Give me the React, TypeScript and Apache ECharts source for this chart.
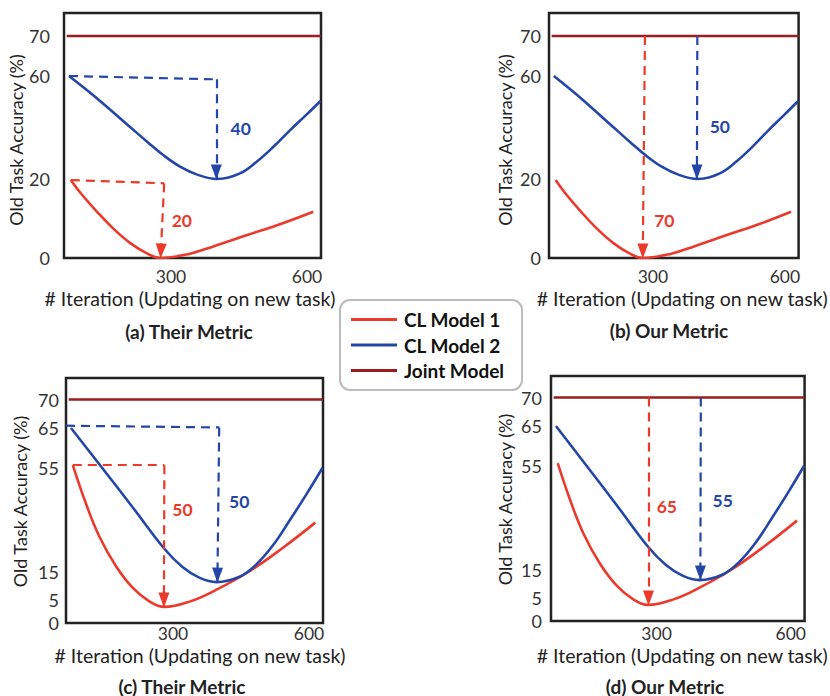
import React, { useEffect, useRef } from "react";
import * as echarts from "echarts";

// ---------------- data ----------------
const X_MIN = 64;
const X_MAX = 631;
const X_TICKS = [300, 600];
const TOP_Y_TICKS = [0, 20, 60, 70];
const BOTTOM_Y_TICKS = [0, 5, 15, 55, 65, 70];

// top panels (a), (b)
const TOP_RED_ITER = [79, 101, 137, 174, 211, 248, 277, 342, 395, 468, 542, 614];
const TOP_RED_ACC = [19.75, 16.4, 11.7, 7.3, 3.7, 1.1, 0, 1.1, 3.0, 5.8, 8.6, 11.7];
const TOP_BLUE_ITER = [75, 137, 211, 248, 285, 321, 358, 401, 452, 489, 526, 563, 599, 630];
const TOP_BLUE_ACC = [60, 51.3, 40, 34.4, 29, 24.7, 21.7, 20, 22.2, 26.7, 32.5, 39, 45, 50.3];

// bottom panels (c), (d)
const BOT_RED_ITER = [79, 108, 137, 174, 211, 248, 281, 338, 395, 468, 542, 614];
const BOT_RED_ACC = [55.6, 41.2, 28.8, 17.3, 9.4, 4.7, 3.5, 4.7, 8.6, 15.2, 24.2, 33.9];
const BOT_BLUE_ITER = [75, 137, 211, 281, 321, 358, 396, 448, 485, 521, 558, 595, 630];
const BOT_BLUE_ACC = [65, 55.9, 39.8, 23.9, 16.9, 13.0, 11.4, 13.4, 18.1, 25.3, 34.9, 44.9, 54.9];

const JOINT_ITER = [70, 631];
const JOINT_ACC = [70, 70];

// annotation paths [iteration, accuracy]
const A_RED_PATH = [[79, 19.75], [285, 18.9], [277, 0]];
const A_BLUE_PATH = [[75, 60], [400, 58.7], [400, 20]];
const B_RED_PATH = [[282, 70], [277, 0]];
const B_BLUE_PATH = [[401, 70], [400, 20]];
const C_RED_PATH = [[79, 55.6], [281, 55.6], [280, 3.5]];
const C_BLUE_PATH = [[64, 65.4], [402, 65.1], [398, 11.4]];
const D_RED_PATH = [[282, 70], [282, 3.5]];
const D_BLUE_PATH = [[399, 70], [398, 11.4]];

const A_LABELS = ["20", "40"];
const B_LABELS = ["70", "50"];
const C_LABELS = ["50", "50"];
const D_LABELS = ["65", "55"];
const A_LABEL_POS = [[324, 9.4], [454, 39.8]];
const B_LABEL_POS = [[326, 9.6], [452, 40.2]];
const C_LABEL_POS = [[321, 39.1], [446, 41.9]];
const D_LABEL_POS = [[323, 39.2], [448, 41.7]];

const CAPTIONS = ["(a) Their Metric", "(b) Our Metric", "(c) Their Metric", "(d) Our Metric"];
const SERIES_NAMES = ["CL Model 1", "CL Model 2", "Joint Model"];
const X_TITLE = "# Iteration (Updating on new task)";
const Y_TITLE = "Old Task Accuracy (%)";

// ---------------- schematic (non-uniform) y scale ----------------
const TOP_SCALE = [[0, 0], [20, 79], [60, 182], [70, 222]];
const BOT_SCALE = [[0, 0], [5, 23], [15, 51], [55, 155.5], [65, 195], [70, 223.5]];
const FRAME_H = 245;

function warp(scale: number[][], v: number): number {
  for (let i = 0; i < scale.length - 1; i++) {
    const [v0, p0] = scale[i];
    const [v1, p1] = scale[i + 1];
    if (v <= v1 || i === scale.length - 2) {
      return p0 + ((v - v0) * (p1 - p0)) / (v1 - v0);
    }
  }
  return 0;
}

const RED = "#EB3A2B";
const BLUE = "#2446A8";
const JOINT = "#9B1D1D";
const FONT = "Lato";

const GRIDS = [
  { left: 64, top: 13, ylm: 14, yng: 35, ypad: [0, 9, 0, 0], xlm: 9, xng: 30.75, xpad: [0, 5, 0, 0] },
  { left: 549, top: 13, ylm: 8, yng: 35, ypad: [0, 9, 0, 0], xlm: 9, xng: 30.75, xpad: [0, 0, 0, 17] },
  { left: 66, top: 378, ylm: 7, yng: 37, ypad: [0, 2, 0, 0], xlm: 1.25, xng: 22.75, xpad: [0, 0, 0, 11] },
  { left: 551, top: 376, ylm: 9, yng: 37, ypad: [0, 2, 0, 0], xlm: 3.25, xng: 24.75, xpad: [0, 0, 0, 9] },
];
const CAPTION_POS = [[189, 331], [669, 330], [182, 686], [665, 686]];

export default function App() {
  const ref = useRef<HTMLDivElement>(null);
  useEffect(() => {
    if (!ref.current) return;
    const chart = echarts.init(ref.current, null, { renderer: "svg" });

    const panels = [
      { scale: TOP_SCALE, ticks: TOP_Y_TICKS, red: [TOP_RED_ITER, TOP_RED_ACC], blue: [TOP_BLUE_ITER, TOP_BLUE_ACC], rp: A_RED_PATH, bp: A_BLUE_PATH, lab: A_LABELS, lp: A_LABEL_POS },
      { scale: TOP_SCALE, ticks: TOP_Y_TICKS, red: [TOP_RED_ITER, TOP_RED_ACC], blue: [TOP_BLUE_ITER, TOP_BLUE_ACC], rp: B_RED_PATH, bp: B_BLUE_PATH, lab: B_LABELS, lp: B_LABEL_POS },
      { scale: BOT_SCALE, ticks: BOTTOM_Y_TICKS, red: [BOT_RED_ITER, BOT_RED_ACC], blue: [BOT_BLUE_ITER, BOT_BLUE_ACC], rp: C_RED_PATH, bp: C_BLUE_PATH, lab: C_LABELS, lp: C_LABEL_POS },
      { scale: BOT_SCALE, ticks: BOTTOM_Y_TICKS, red: [BOT_RED_ITER, BOT_RED_ACC], blue: [BOT_BLUE_ITER, BOT_BLUE_ACC], rp: D_RED_PATH, bp: D_BLUE_PATH, lab: D_LABELS, lp: D_LABEL_POS },
    ];

    const grid: any[] = [];
    const xAxis: any[] = [];
    const yAxis: any[] = [];
    const series: any[] = [];

    const mkLines = (scale: number[][], path: number[][], color: string) => {
      const data: any[] = [];
      for (let i = 0; i < path.length - 1; i++) {
        const last = i === path.length - 2;
        data.push([
          { coord: [path[i][0], warp(scale, path[i][1])], symbol: "none" },
          {
            coord: [path[i + 1][0], warp(scale, path[i + 1][1])],
            symbol: last ? "triangle" : "none",
            symbolSize: [11, 15],
            symbolOffset: [0, 7],
          },
        ]);
      }
      return {
        silent: true,
        animation: false,
        symbol: ["none", "none"],
        label: { show: false },
        lineStyle: { type: [9, 6], width: 2.2, color },
        emphasis: { disabled: true },
        data,
      };
    };
    const mkText = (scale: number[][], pos: number[], text: string, color: string) => ({
      silent: true,
      animation: false,
      symbol: "circle",
      symbolSize: 0,
      itemStyle: { color: "transparent" },
      label: { show: true, position: "inside", formatter: text, color, fontFamily: FONT, fontWeight: "bold", fontSize: 17.5 },
      data: [{ coord: [pos[0], warp(scale, pos[1])] }],
    });

    panels.forEach((p, i) => {
      const g = GRIDS[i];
      grid.push({
        left: g.left, top: g.top, width: 257, height: FRAME_H,
        show: true, borderColor: "#222", borderWidth: 2.5, backgroundColor: "#fff",
      });
      xAxis.push({
        type: "value", gridIndex: i, min: X_MIN, max: X_MAX,
        axisLine: { show: false }, axisTick: { show: false }, splitLine: { show: false },
        axisLabel: { customValues: X_TICKS, margin: g.xlm, fontSize: 17.5, color: "#333", fontFamily: FONT },
        name: X_TITLE, nameLocation: "middle", nameGap: g.xng,
        nameTextStyle: { fontSize: 19.5, color: "#222", fontFamily: FONT, padding: g.xpad },
      });
      const sc = p.scale;
      const tk = p.ticks;
      yAxis.push({
        type: "value", gridIndex: i, min: 0, max: FRAME_H,
        axisLine: { show: false }, axisTick: { show: false }, splitLine: { show: false },
        axisLabel: {
          customValues: tk.map((t) => warp(sc, t)),
          formatter: (v: number) => {
            const t = tk.find((tt) => Math.abs(warp(sc, tt) - v) < 0.5);
            return t === undefined ? "" : String(t);
          },
          margin: g.ylm, fontSize: 18, color: "#333", fontFamily: FONT,
        },
        name: Y_TITLE, nameLocation: "middle", nameGap: g.yng, nameRotate: 90,
        nameTextStyle: { fontSize: 18, color: "#222", fontFamily: FONT, padding: g.ypad },
      });
      const mk = (iters: number[], accs: number[]) => iters.map((x, k) => [x, warp(sc, accs[k])]);
      series.push({
        type: "line", name: SERIES_NAMES[0], xAxisIndex: i, yAxisIndex: i,
        data: mk(p.red[0], p.red[1]), smooth: 0.4, showSymbol: false, symbol: "none",
        lineStyle: { color: RED, width: 2.6 }, itemStyle: { color: RED },
        markLine: mkLines(sc, p.rp, RED), markPoint: mkText(sc, p.lp[0], p.lab[0], RED), z: 3,
      });
      series.push({
        type: "line", name: SERIES_NAMES[1], xAxisIndex: i, yAxisIndex: i,
        data: mk(p.blue[0], p.blue[1]), smooth: 0.4, showSymbol: false, symbol: "none",
        lineStyle: { color: BLUE, width: 2.6 }, itemStyle: { color: BLUE },
        markLine: mkLines(sc, p.bp, BLUE), markPoint: mkText(sc, p.lp[1], p.lab[1], BLUE), z: 3,
      });
      series.push({
        type: "line", name: SERIES_NAMES[2], xAxisIndex: i, yAxisIndex: i,
        data: mk(JOINT_ITER, JOINT_ACC), showSymbol: false, symbol: "none",
        lineStyle: { color: JOINT, width: 2.6 }, itemStyle: { color: JOINT }, z: 2,
      });
    });

    const graphic: any[] = [
      {
        type: "rect", z: 0, silent: true,
        shape: { x: 340, y: 300, width: 182, height: 90, r: 10 },
        style: { fill: "#fff", stroke: "#bbb", lineWidth: 2 },
      },
      ...CAPTIONS.map((c, i) => ({
        type: "text", silent: true, x: CAPTION_POS[i][0], y: CAPTION_POS[i][1],
        style: { text: c, fontFamily: FONT, fontWeight: "bold", fontSize: 19, fill: "#222", align: "center", verticalAlign: "middle" },
      })),
    ];

    chart.setOption({
      animation: false,
      backgroundColor: "#fff",
      grid, xAxis, yAxis, series, graphic,
      legend: {
        data: SERIES_NAMES, orient: "vertical", left: 346, top: 305, z: 10,
        icon: "rect", itemWidth: 46, itemHeight: 3, itemGap: 6.5, selectedMode: false,
        textStyle: { fontSize: 19, fontWeight: "bold", fontFamily: FONT, color: "#111", padding: [0, 0, 0, 2] },
      },
    });
    return () => chart.dispose();
  }, []);
  return <div ref={ref} style={{ position: "fixed", left: 0, top: 0, width: 830, height: 696 }} />;
}
